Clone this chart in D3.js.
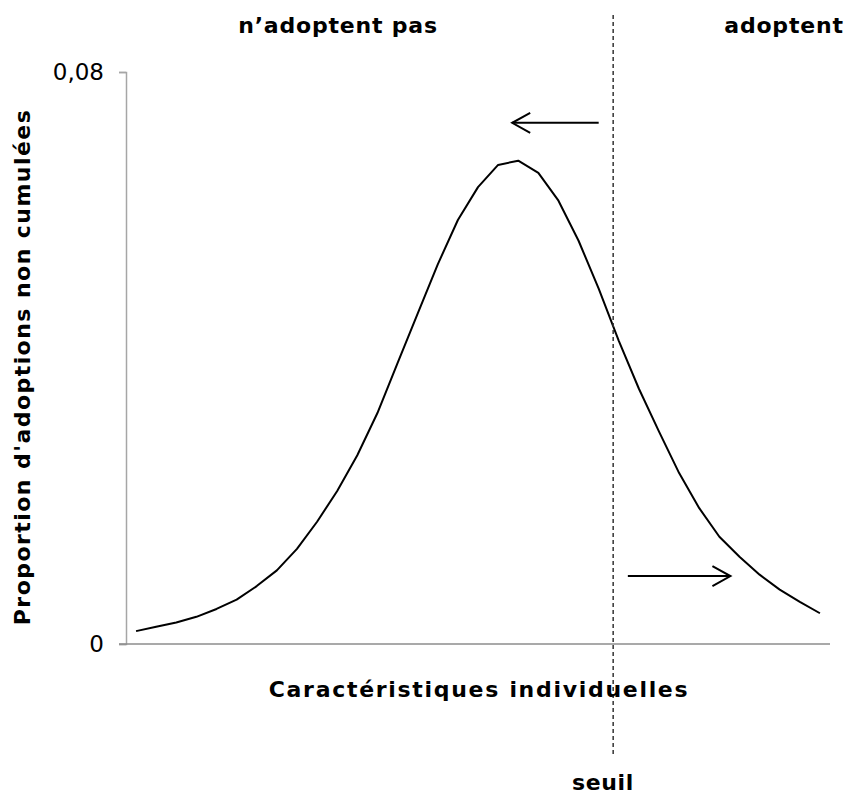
<!DOCTYPE html>
<html><head><meta charset="utf-8">
<script src="https://cdn.jsdelivr.net/npm/d3@7"></script>
<style>body{margin:0;background:#fff}svg{display:block}</style>
</head><body>
<svg id="c" width="851" height="795"></svg>
<script>
// ---- data ----
const categories = d3.range(1, 36);
const values = [0.0018,0.0024,0.0030,0.0038,0.0049,0.0062,0.0081,0.0103,0.0133,0.0171,
  0.0214,0.0264,0.0323,0.0393,0.0462,0.0531,0.0593,0.0639,0.0670,0.0676,
  0.0659,0.0620,0.0564,0.0497,0.0424,0.0357,0.0297,0.0239,0.0190,0.0150,
  0.0122,0.0097,0.0076,0.0059,0.0043];
const yTicks = [0, 0.08];
const yTickLabels = ["0", "0,08"];
const threshold = 23.72;          // category position of "seuil"
const arrowLeft = {from: 23.0, to: 18.7, y: 0.0729};
const arrowRight = {from: 24.45, to: 29.55, y: 0.0095};
const labels = {
  left: "n\u2019adoptent pas", right: "adoptent",
  xTitle: "Caractéristiques individuelles", yTitle: "Proportion d'adoptions non cumulées",
  seuil: "seuil"
};

// ---- layout ----
const svg = d3.select("#c");
const x = d3.scaleLinear().domain([-0.5, categories.length - 0.5]).range([126, 830]);
const y = d3.scaleLinear().domain([0, 0.08]).range([644, 72]);
const font = "DejaVu Sans, Verdana, sans-serif";

// axes
const yAxis = d3.axisLeft(y).tickValues(yTicks).tickFormat((d,i)=>yTickLabels[i]).tickSizeOuter(0).tickSize(7).tickPadding(15);
const gy = svg.append("g").attr("transform", `translate(${x.range()[0]},0)`).call(yAxis);
gy.select(".domain").attr("stroke", "#a6a6a6").attr("stroke-width", 1.5);
gy.selectAll(".tick line").attr("stroke", "#a6a6a6").attr("stroke-width", 1.5);
gy.selectAll(".tick text").attr("font-family", font).attr("font-size", 23).attr("fill", "#000");

svg.append("line").attr("x1", x.range()[0] - 7).attr("x2", x.range()[1])
  .attr("y1", y(0)).attr("y2", y(0)).attr("stroke", "#8c8c8c").attr("stroke-width", 1.5);

// curve
const line = d3.line().x((d,i)=>x(i)).y(d=>y(d));
svg.append("path").datum(values).attr("d", line).attr("fill", "none")
  .attr("stroke", "#000").attr("stroke-width", 2).attr("stroke-linejoin", "round");

// threshold line
svg.append("line").attr("x1", x(threshold)).attr("x2", x(threshold))
  .attr("y1", 15).attr("y2", 757).attr("stroke", "#333").attr("stroke-width", 1.5)
  .attr("stroke-dasharray", "4,3");

// arrows
function arrow(a) {
  const x1 = x(a.from), x2 = x(a.to), yy = y(a.y);
  const dir = Math.sign(x2 - x1);
  const g = svg.append("g").attr("stroke", "#000").attr("stroke-width", 2).attr("fill", "none");
  g.append("line").attr("x1", x1).attr("x2", x2).attr("y1", yy).attr("y2", yy);
  g.append("path").attr("d", `M${x2 - dir*18},${yy-10}L${x2},${yy}L${x2 - dir*18},${yy+10}`);
}
arrow(arrowLeft);
arrow(arrowRight);

// texts
const bold = (t, px, py, ls) => svg.append("text").text(t).attr("x", px).attr("y", py)
  .attr("text-anchor", "middle").attr("font-family", font).attr("font-weight", "bold")
  .attr("font-size", 22).attr("letter-spacing", ls + "px").attr("fill", "#000");
bold(labels.left, 338, 33, 0.8);
bold(labels.right, 784, 33, 0.8);
bold(labels.xTitle, 479, 697, 1.7);
bold(labels.seuil, 603, 790, 0.6);
bold(labels.yTitle, 0, 0, 1.45).attr("transform", "translate(30,367) rotate(-90)");
</script>
</body></html>
